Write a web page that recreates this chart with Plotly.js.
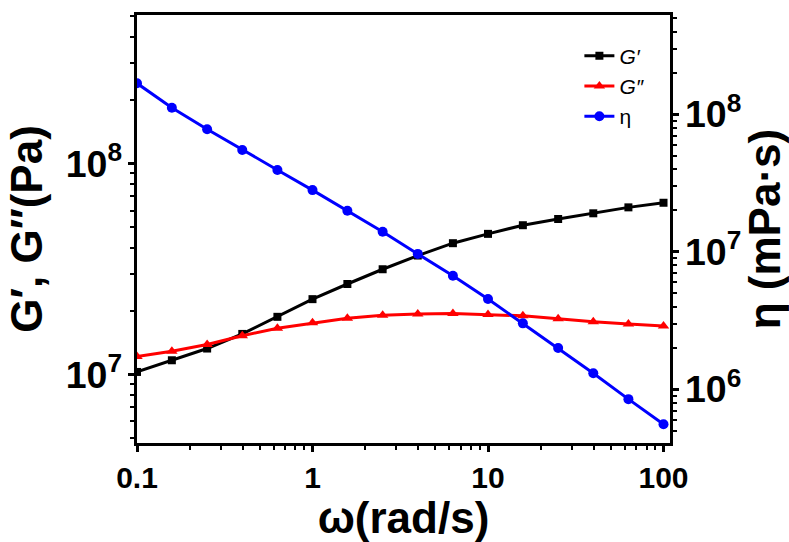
<!DOCTYPE html>
<html>
<head>
<meta charset="utf-8">
<script src="https://cdn.plot.ly/plotly-3.0.1.min.js"></script>
<style>html,body{margin:0;padding:0;background:#fff;}#chart{width:789px;height:542px;}</style>
</head>
<body>
<div id="chart"></div>
<script>
// angular frequency (rad/s)
const omega = [0.1, 0.158, 0.251, 0.398, 0.631, 1, 1.58, 2.51, 3.98, 6.31, 10, 15.8, 25.1, 39.8, 63.1, 100];
// storage modulus G' (Pa)
const Gp = [1.03e7, 1.17e7, 1.33e7, 1.56e7, 1.88e7, 2.28e7, 2.69e7, 3.16e7, 3.67e7, 4.20e7, 4.65e7, 5.11e7, 5.47e7, 5.82e7, 6.21e7, 6.53e7];
// loss modulus G'' (Pa)
const Gpp = [1.22e7, 1.29e7, 1.39e7, 1.53e7, 1.66e7, 1.76e7, 1.85e7, 1.91e7, 1.94e7, 1.95e7, 1.93e7, 1.90e7, 1.84e7, 1.78e7, 1.74e7, 1.70e7];
// complex viscosity eta (mPa·s)
const eta = [1.68e8, 1.117e8, 7.78e7, 5.50e7, 3.94e7, 2.81e7, 1.99e7, 1.40e7, 9.66e6, 6.70e6, 4.54e6, 3.02e6, 2.00e6, 1.31e6, 8.49e5, 5.58e5];

const names = ['<i>G′</i>', '<i>G″</i>', 'η'];

const FONT = 'Liberation Sans, Arial, sans-serif';

const traces = [
  {x: omega, y: Gp, name: names[0], mode: 'lines+markers', yaxis: 'y',
   line: {color: '#000000', width: 3}, marker: {symbol: 'square', size: 8, color: '#000000'}},
  {x: omega, y: Gpp, name: names[1], mode: 'lines+markers', yaxis: 'y',
   line: {color: '#ff0000', width: 3}, marker: {symbol: 'triangle-up', size: 10, color: '#ff0000'}},
  {x: omega, y: eta, name: names[2], mode: 'lines+markers', yaxis: 'y2',
   line: {color: '#0000ff', width: 3}, marker: {symbol: 'circle', size: 10, color: '#0000ff'}}
];

const tickF = {family: FONT, size: 30, color: '#000', weight: 'bold'};
const titleF = {family: FONT, size: 44, color: '#000', weight: 'bold'};

const layout = {
  width: 789, height: 542,
  margin: {l: 137, r: 119, t: 15, b: 99},
  paper_bgcolor: '#fff', plot_bgcolor: '#fff',
  showlegend: true,
  legend: {x: 0.83, y: 0.952, xanchor: 'left', yanchor: 'top', bgcolor: 'rgba(0,0,0,0)',
           font: {family: FONT, size: 21, color: '#000'}, traceorder: 'normal'},
  xaxis: {type: 'log', range: [-1, 2.037], dtick: 1, showgrid: false, zeroline: false,
          showline: true, linewidth: 3, linecolor: '#000', mirror: true,
          ticks: 'outside', ticklen: 6, tickwidth: 3, tickcolor: '#000',
          minor: {ticks: 'outside', ticklen: 4, tickwidth: 2, tickcolor: '#000', dtick: 'D1', showgrid: false},
          tickfont: tickF, automargin: false,
          title: {text: 'ω(rad/s)', font: titleF, standoff: 2}},
  yaxis: {type: 'log', range: [6.676, 8.705], dtick: 1, exponentformat: 'power', showgrid: false, zeroline: false,
          showline: true, linewidth: 3, linecolor: '#000',
          ticks: 'outside', ticklen: 6, tickwidth: 3, tickcolor: '#000',
          minor: {ticks: 'outside', ticklen: 4, tickwidth: 2, tickcolor: '#000', dtick: 'D1', showgrid: false},
          tickfont: tickF, automargin: false,
          title: {text: 'G′, G″(Pa)', font: titleF, standoff: 10}},
  yaxis2: {type: 'log', range: [5.61, 8.722], dtick: 1, exponentformat: 'power', showgrid: false, zeroline: false,
           overlaying: 'y', side: 'right',
           showline: true, linewidth: 3, linecolor: '#000',
           ticks: 'outside', ticklen: 6, tickwidth: 3, tickcolor: '#000',
           minor: {ticks: 'outside', ticklen: 4, tickwidth: 2, tickcolor: '#000', dtick: 'D1', showgrid: false},
           tickfont: tickF, automargin: false,
           title: {text: 'η (mPa·s)', font: titleF, standoff: 6}}
};

Plotly.newPlot('chart', traces, layout, {displayModeBar: false, staticPlot: true});
</script>
</body>
</html>
